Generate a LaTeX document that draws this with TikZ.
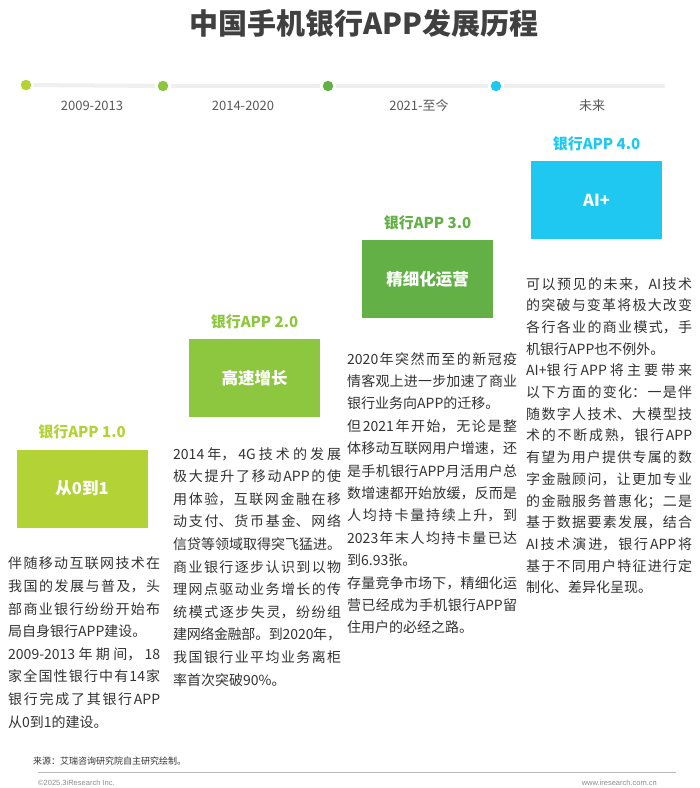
\documentclass[tikz,border=0pt]{standalone}
\usepackage{fontspec}
\usetikzlibrary{positioning}
\setmainfont{Noto Sans CJK SC}
\newfontfamily\latinfont{Liberation Sans}
\XeTeXlinebreaklocale "zh"
\XeTeXlinebreakskip=0pt plus 3pt minus 1pt
\tolerance=10000
\hbadness=10000
\hfuzz=6pt
\definecolor{stageone}{HTML}{B3D235}
\definecolor{stagetwo}{HTML}{8DC63F}
\definecolor{stagethree}{HTML}{62B046}
\definecolor{stagefour}{HTML}{1EC8F0}
\definecolor{titlegray}{HTML}{404040}
\definecolor{bodygray}{HTML}{333333}
\definecolor{labelgray}{HTML}{595959}
\definecolor{linegray}{HTML}{EFEFEF}
\definecolor{footgray}{HTML}{8C8C8C}
\begin{document}
\begin{tikzpicture}[x=1pt,y=-1pt,
  stagedot/.style={circle, fill=#1, minimum size=10.5pt, inner sep=0pt, outer sep=2.5pt},
  timeline/.style={draw=linegray, line width=4pt},
  yearlabel/.style={text=labelgray, inner sep=0pt, font=\fontsize{13}{14}\selectfont},
  stagebox/.style={fill=#1, minimum width=131pt, minimum height=78pt, inner sep=0pt,
    text=white, font=\fontsize{16.5}{18}\selectfont\bfseries},
  stagehead/.style={text=#1, inner sep=0pt, font=\fontsize{15}{16}\selectfont\bfseries},
  bodytext/.style={anchor=north west, text width=#1, align=justify, inner sep=0pt,
    text=bodygray, font=\fontsize{14}{22.6}\selectfont}]
\useasboundingbox [fill=white] (0,0) rectangle (700,788);

% title
\node [text=titlegray, inner sep=0pt, font=\fontsize{29}{32}\selectfont\bfseries] (title) at (364,23) {中国手机银行APP发展历程};

% timeline
\node [stagedot=stageone] (d1) at (26,85) {};
\node [stagedot=stagetwo] (d2) at (163,86) {};
\node [stagedot=stagethree] (d3) at (328,86) {};
\node [stagedot=stagefour] (d4) at (496,86) {};
\coordinate (tlend) at (665,86);
\draw [timeline] (d1) -- (d2);
\draw [timeline] (d2) -- (d3);
\draw [timeline] (d3) -- (d4);
\draw [timeline] (d4) -- (tlend);
\node [yearlabel] (y1) at (92,106) {2009-2013};
\node [yearlabel] (y2) at (243,106) {2014-2020};
\node [yearlabel] (y3) at (419,106) {2021-至今};
\node [yearlabel] (y4) at (592,106) {未来};

% stage boxes
\node [stagebox=stageone] (b1) at (82,488.5) {从0到1};
\node [stagebox=stagetwo] (b2) at (254.5,378) {高速增长};
\node [stagebox=stagethree] (b3) at (427.5,279) {精细化运营};
\node [stagebox=stagefour] (b4) at (596.5,200) {AI+};
\node [stagehead=stageone, above=10.5pt of b1] (h1) {银行APP 1.0};
\node [stagehead=stagetwo, above=9.5pt of b2] (h2) {银行APP 2.0};
\node [stagehead=stagethree, above=9.5pt of b3] (h3) {银行APP 3.0};
\node [stagehead=stagefour, above=9.5pt of b4] (h4) {银行APP 4.0};

% texts
\node [bodytext=152pt] (t1) at (8,557) {伴随移动互联网技术在\linebreak 我国的发展与普及，头\linebreak 部商业银行纷纷开始布\linebreak 局自身银行APP建设。\par
2009-2013年期间，18\linebreak 家全国性银行中有14家\linebreak 银行完成了其银行APP\linebreak 从0到1的建设。};
\node [bodytext=168pt] (t2) at (173,447) {2014年，4G技术的发展\linebreak 极大提升了移动APP的使\linebreak 用体验，互联网金融在移\linebreak 动支付、货币基金、网络\linebreak 信贷等领域取得突飞猛进。\par
商业银行逐步认识到以物\linebreak 理网点驱动业务增长的传\linebreak 统模式逐步失灵，纷纷组\linebreak 建网络金融部。到2020年，\linebreak 我国银行业平均业务离柜\linebreak 率首次突破90\%。};
\node [bodytext=170pt, font=\fontsize{14}{22.4}\selectfont] (t3) at (347,352) {2020年突然而至的新冠疫\linebreak 情客观上进一步加速了商业\linebreak 银行业务向APP的迁移。\par
但2021年开始，无论是整\linebreak 体移动互联网用户增速，还\linebreak 是手机银行APP月活用户总\linebreak 数增速都开始放缓，反而是\linebreak 人均持卡量持续上升，到\linebreak 2023年末人均持卡量已达\linebreak 到6.93张。\par
存量竞争市场下，精细化运\linebreak 营已经成为手机银行APP留\linebreak 住用户的必经之路。};
\node [bodytext=166pt, font=\fontsize{14}{21.7}\selectfont] (t4) at (526,277) {可以预见的未来，AI技术\linebreak 的突破与变革将极大改变\linebreak 各行各业的商业模式，手\linebreak 机银行APP也不例外。\par
AI+银行APP将主要带来\linebreak 以下方面的变化：一是伴\linebreak 随数字人技术、大模型技\linebreak 术的不断成熟，银行APP\linebreak 有望为用户提供专属的数\linebreak 字金融顾问，让更加专业\linebreak 的金融服务普惠化；二是\linebreak 基于数据要素发展，结合\linebreak AI技术演进，银行APP将\linebreak 基于不同用户特征进行定\linebreak 制化、差异化呈现。};

% footer
\node [anchor=west, inner sep=0pt, text=bodygray, font=\fontsize{9}{10}\selectfont] (src) at (33,761) {来源：艾瑞咨询研究院自主研究绘制。};
\coordinate (fl) at (38,772);
\coordinate (fr) at (676,772);
\draw [draw=gray!55, line width=0.8pt] (fl) -- (fr);
\node [anchor=west, inner sep=0pt, text=footgray, font=\latinfont\fontsize{7.5}{8}\selectfont] (copy) at (38,783) {©2025.3iResearch Inc.};
\node [anchor=east, inner sep=0pt, text=footgray, font=\latinfont\fontsize{7.5}{8}\selectfont] (web) at (657,783) {www.iresearch.com.cn};
\end{tikzpicture}
\end{document}
